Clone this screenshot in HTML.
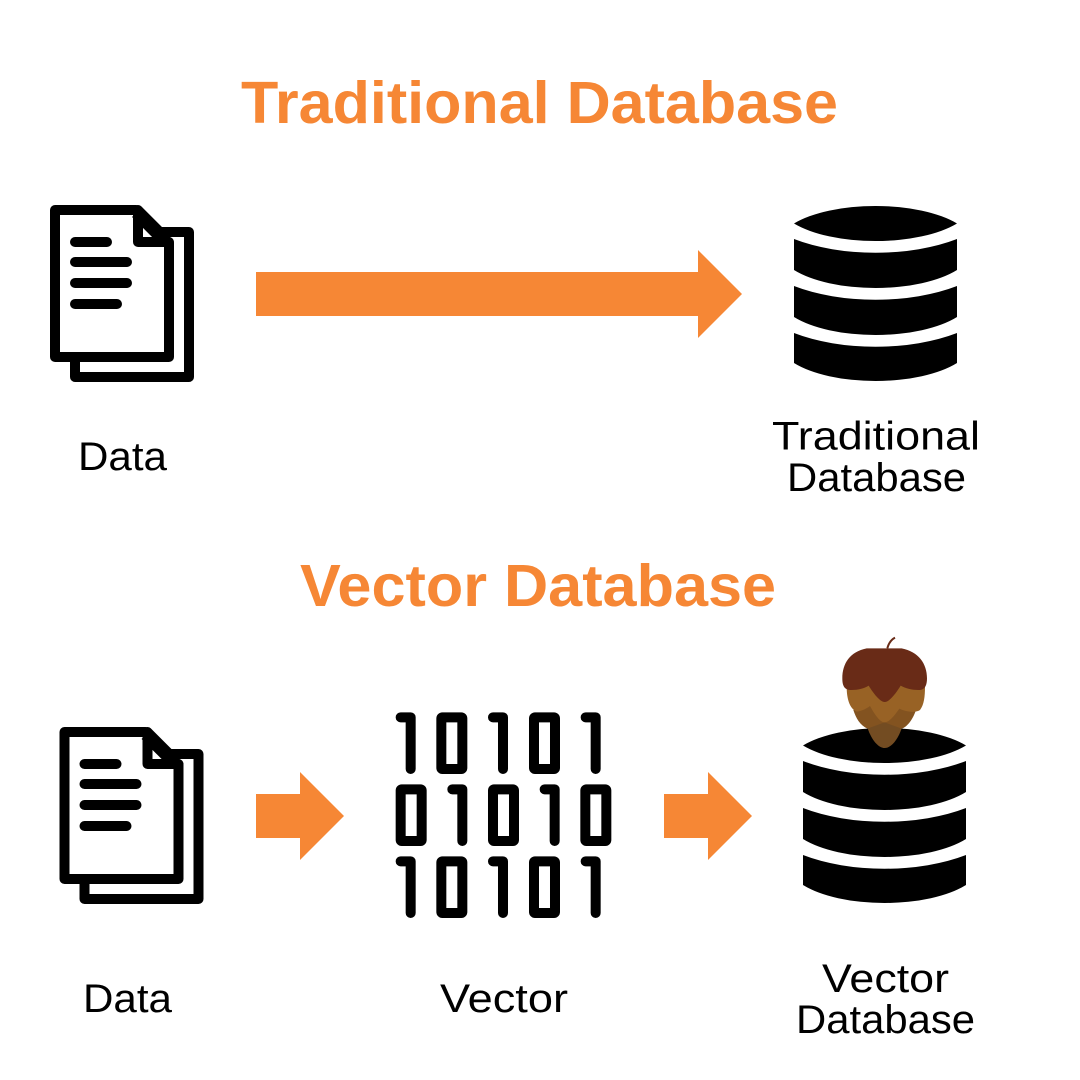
<!DOCTYPE html>
<html><head><meta charset="utf-8"><style>html,body{margin:0;padding:0;background:#fff}svg{display:block}</style></head><body>
<svg width="1080" height="1080" viewBox="0 0 1080 1080" xmlns="http://www.w3.org/2000/svg">
<defs>
<g id="doc" fill="none" stroke="#000" stroke-width="10" stroke-linejoin="round" stroke-linecap="round">
<path d="M160 232H189V377H75V357"/>
<path d="M55 210H136L169 243V357H55Z" fill="#fff"/>
<path d="M138 210V242H169"/>
<path d="M137 212L165 240" stroke-width="14" stroke-linecap="butt"/>
<path d="M75 242H107M75 262H127M75 283H127M75 304H117"/>
</g>
<g id="db" fill="#000">
<path d="M794 223.5A98.5 40 0 0 1 957 223.5A98.5 40 0 0 1 794 223.5Z"/>
<path d="M794 239A128 60 0 0 0 957 239V270A97.6 40 0 0 1 794 270Z"/>
<path d="M794 286A128 60 0 0 0 957 286V317A97.6 40 0 0 1 794 317Z"/>
<path d="M794 333A128 60 0 0 0 957 333V363A97.6 40 0 0 1 794 363Z"/>
</g>
<g id="b1" fill="none" stroke="#000" stroke-width="30" stroke-linecap="round" stroke-linejoin="round"><path d="M47 52H77V207"/></g>
<rect id="b0" width="63" height="155" rx="3" fill="none" stroke="#000" stroke-width="30"/>
</defs>
<rect width="1080" height="1080" fill="#fff"/>

<g font-family="'Liberation Sans',sans-serif" font-weight="700" font-size="59" fill="#f68735">
<text x="241" y="123" textLength="597" lengthAdjust="spacingAndGlyphs">Traditional Database</text>
<text x="300" y="606" textLength="476" lengthAdjust="spacingAndGlyphs">Vector Database</text>
</g>

<use href="#doc"/>
<use href="#doc" x="9.5" y="522"/>
<use href="#db"/>
<use href="#db" x="9" y="522"/>

<g fill="#f68735">
<path d="M256 272H698V250L742 294L698 338V316H256Z"/>
<path d="M256 794H300V772L344 816L300 860V838H256Z"/>
<path d="M664 794H708V772L752 816L708 860V838H664Z"/>
</g>

<g transform="translate(385 700) scale(.33333)">
<use href="#b1"/><use href="#b0" x="169" y="52"/><use href="#b1" x="277"/><use href="#b0" x="447" y="52"/><use href="#b1" x="555"/>
<use href="#b0" x="47" y="268"/><use href="#b1" x="155" y="216"/><use href="#b0" x="324" y="268"/><use href="#b1" x="432" y="216"/><use href="#b0" x="601" y="268"/>
<use href="#b1" y="432"/><use href="#b0" x="169" y="484"/><use href="#b1" x="277" y="432"/><use href="#b0" x="447" y="484"/><use href="#b1" x="555" y="432"/>
</g>

<g transform="translate(790 630) scale(.33333)">
<path d="M292 55C296 40 302 30 315 23" fill="none" stroke="#692b17" stroke-width="6"/>
<path d="M233 295C245 330 265 354 284 354C303 354 323 330 335 295L284 262Z" fill="#734c22"/>
<path d="M190 240C198 265 210 285 232 296L284 277L335 296C350 292 368 270 378 240L284 200Z" fill="#835320"/>
<path d="M170 170C170 205 178 235 200 245C215 243 230 236 240 228C255 255 270 277 284 277C298 277 315 255 328 236C345 245 375 250 390 240C402 225 405 200 405 170L284 120Z" fill="#986225"/>
<path d="M230 55C180 65 157 100 157 145C157 170 165 178 180 180C200 181 222 176 236 167C250 190 270 216 284 216C298 216 318 190 332 167C348 176 370 181 390 180C405 178 411 165 411 145C411 100 385 65 335 55Z" fill="#692b17"/>
</g>

<g font-family="'Liberation Sans',sans-serif" font-size="40" fill="#000">
<text x="78" y="470" textLength="89" lengthAdjust="spacingAndGlyphs">Data</text>
<text x="772" y="449.5" textLength="208" lengthAdjust="spacingAndGlyphs">Traditional</text>
<text x="787" y="491" textLength="179" lengthAdjust="spacingAndGlyphs">Database</text>
<text x="83" y="1012" textLength="89" lengthAdjust="spacingAndGlyphs">Data</text>
<text x="440" y="1012" textLength="128" lengthAdjust="spacingAndGlyphs">Vector</text>
<text x="822" y="992" textLength="127" lengthAdjust="spacingAndGlyphs">Vector</text>
<text x="796" y="1033" textLength="179" lengthAdjust="spacingAndGlyphs">Database</text>
</g>
</svg>
</body></html>
